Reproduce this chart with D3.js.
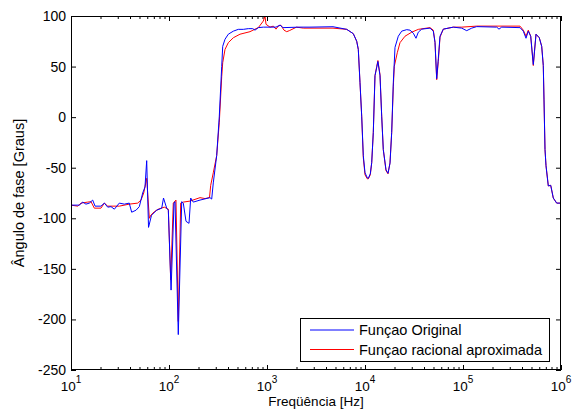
<!DOCTYPE html>
<html><head><meta charset="utf-8">
<script src="https://cdn.jsdelivr.net/npm/d3@7"></script>
<style>
body{margin:0;background:#fff}
text{font-family:Arial,"Liberation Sans",Helvetica,sans-serif;fill:#000}
</style>
</head><body>
<svg id="chart" width="575" height="409"></svg>
<script>
// ---- data ----
const blueFreq=[10,12.15,13.2,14.2,15.4,16.65,17.6,20.2,21.9,23.7,25.6,27.7,31.1,35.0,39.3,41.6,46.1,49.8,53.9,56.9,59.2,61.8,66.3,74.9,84.3,87.9,94.7,98.4,105,112.5,115.1,124.4,134.8,139.9,149.1,160.0,166.5,177.0,207.2,262,272.7,283.1,306.7,326.1,345.0,353.2,372.8,402.9,453.2,509.5,573.1,644.5,714.8,754.5,815.4,916.7,1073,1235,1358,1457,2171,2747,4716,6508,7598,8229,8543,8892,9254,9610,10000,10556,10807,11326,11706,12153,12647,13164,13540,14226,14803,15370,16380,17170,17993,18726,19445,20236,21864,23682,26640,28793,31115,33146,34990,37900,46060,49770,51800,53900,55980,58260,62950,79620,97000,109100,122700,138000,220800,232900,248200,381600,412500,439500,463800,490800,521600,555800,600500,635400,659700,670700,686700,703000,742000,785200,834500,903900,1000000];
const blueVal=[-87,-87,-84,-86,-85,-82,-88,-88,-85,-89,-88.5,-91,-85,-86,-85,-94,-92,-88.5,-75,-69,-43,-109,-97,-92,-90,-80,-90,-92,-171,-85,-83.6,-215,-83.6,-85,-103,-105,-80,-84,-82,-79.6,-81,-65,-38,1,50,70,77,82,85,86.8,86.8,87.5,87.5,86,88.5,89,89,89,91,88.5,89,89,89.4,86.8,82.5,75,67,34,1,-38,-55,-60,-60.5,-56,-45,-15,41,49,55,41,1,-32,-52,-55.5,-45.6,-15,34,69,80,85,86.5,86,83,78,84,87,88,85,74,38,58,80,87,89,88,85.5,88,89.5,89,87,89,88.5,85,78,85,80,52,82,78.5,70,51,17,-32,-48,-68,-67.4,-80,-85,-85];
const redFreq=[10,11.7,12.65,14.8,16.0,17.3,20.2,21.9,23.7,31.1,39.3,47.9,51.8,55.2,59.2,63.0,65.5,70.8,77.8,89.5,98.4,104.1,110.6,117.8,124.4,131.6,139.9,163.8,207.2,233,259,266.4,283.1,306.7,326.1,345.0,353.2,372.8,402.9,453.2,530.2,670.7,754.5,815.4,916.7,954,977,1073,1160,1235,1304,1380,1491,1589,1689,2000,2347,4716,6508,7598,8229,8543,8892,9254,9610,10000,10556,10807,11326,11706,12153,12647,13164,13540,14226,14803,15370,16380,17170,17993,18726,19445,19907,21357,22753,25601,29963,34990,46060,49770,51800,53900,55980,58260,62950,79620,97000,138000,381600,412500,439500,463800,490800,521600,555800,600500,635400,659700,670700,686700,703000,742000,785200,834500,903900,1000000];
const redVal=[-87,-88,-85,-84,-83.6,-90,-90,-85,-88,-88,-86,-85,-82,-75,-60.5,-100,-96.7,-93.5,-91,-89,-91,-161,-85,-82,-202,-85,-84,-83,-79.6,-80.5,-79.5,-67.4,-55,-38,-5,40,53.8,67,73.6,78.5,82,84.5,87,88.5,95,100,91.8,89,90,87,90,91,86,84.5,85.5,89,88,88,86.8,82.5,75,67,34,1,-40,-57,-61,-61,-57,-45,-15,41,50,56,42,1,-32,-53,-56,-45,-15,30,50.3,63.7,73.6,80,84,86.8,88.5,86,74,37,55,79,87,89,89,90,90,86,80,86,80,51,82,78.5,70,51,17,-32,-48,-68,-67.4,-80,-85,-85];
const xTickExponents=[1,2,3,4,5,6];
const yTicks=[-250,-200,-150,-100,-50,0,50,100];
const seriesNames=["Funçao Original","Funçao racional aproximada"];
const seriesColors=["#0000ff","#ff0000"];
const xLabel="Freqüência [Hz]";
const yLabel="Ângulo de fase [Graus]";

// ---- layout ----
const L=71,R=561,T=16,B=370;
const svg=d3.select("#chart");
const x=d3.scaleLog().domain([10,1e6]).range([L,R]);
const y=d3.scaleLinear().domain([-250,100]).range([B,T]);

svg.append("defs").append("clipPath").attr("id","clip")
  .append("rect").attr("x",L).attr("y",T).attr("width",R-L).attr("height",B-T);

const majors=xTickExponents.map(e=>Math.pow(10,e));
const minors=[];
for(let e=1;e<6;e++)for(let k=2;k<=9;k++)minors.push(k*Math.pow(10,e));

function noDomain(g){g.select(".domain").remove();g.selectAll("line").attr("stroke","#000");}
svg.append("g").attr("transform",`translate(0,${B})`).call(d3.axisBottom(x).tickValues(majors).tickSize(-5).tickFormat("")).call(noDomain);
svg.append("g").attr("transform",`translate(0,${B})`).call(d3.axisBottom(x).tickValues(minors).tickSize(-3).tickFormat("")).call(noDomain);
svg.append("g").attr("transform",`translate(0,${T})`).call(d3.axisTop(x).tickValues(majors).tickSize(-5).tickFormat("")).call(noDomain);
svg.append("g").attr("transform",`translate(0,${T})`).call(d3.axisTop(x).tickValues(minors).tickSize(-3).tickFormat("")).call(noDomain);
svg.append("g").attr("transform",`translate(${L},0)`).call(d3.axisLeft(y).tickValues(yTicks).tickSize(-5).tickFormat("")).call(noDomain);
svg.append("g").attr("transform",`translate(${R},0)`).call(d3.axisRight(y).tickValues(yTicks).tickSize(-5).tickFormat("")).call(noDomain);

// y tick labels
svg.append("g").selectAll("text").data(yTicks).join("text")
  .attr("x",L-5).attr("y",d=>y(d)+5).attr("text-anchor","end")
  .attr("font-size",14).text(d=>d);
// x tick labels 10^n
const xl=svg.append("g").selectAll("text").data(xTickExponents).join("text")
  .attr("x",e=>x(Math.pow(10,e))).attr("y",390.5).attr("text-anchor","middle").attr("font-size",13.5);
xl.append("tspan").text("10");
xl.append("tspan").attr("font-size",10).attr("dy",-8).text(e=>e);

// axis labels
svg.append("text").attr("x",(L+R)/2).attr("y",405.5).attr("text-anchor","middle").attr("font-size",13.5).text(xLabel);
svg.append("text").attr("transform",`translate(24,${(T+B)/2}) rotate(-90)`).attr("text-anchor","middle").attr("font-size",14.5).text(yLabel);

// lines (red under blue)
const line=d3.line().x(d=>x(d[0])).y(d=>y(d[1]));
const plot=svg.append("g").attr("clip-path","url(#clip)");
plot.append("path").datum(d3.zip(redFreq,redVal)).attr("d",line)
  .attr("fill","none").attr("stroke",seriesColors[1]).attr("stroke-width",1);
plot.append("path").datum(d3.zip(blueFreq,blueVal)).attr("d",line)
  .attr("fill","none").attr("stroke",seriesColors[0]).attr("stroke-width",1);

// frame
svg.append("rect").attr("x",L+0.5).attr("y",T+0.5).attr("width",R-L-1).attr("height",B-T-1)
  .attr("fill","none").attr("stroke","#000").attr("stroke-width",1);

// legend
const lg=svg.append("g");
lg.append("rect").attr("x",300.5).attr("y",318.5).attr("width",249).attr("height",43)
  .attr("fill","#fff").attr("stroke","#000");
seriesNames.forEach((n,i)=>{
  const yy=330+i*19.5;
  lg.append("line").attr("x1",310).attr("x2",354).attr("y1",yy).attr("y2",yy)
    .attr("stroke",seriesColors[i]).attr("stroke-width",1);
  lg.append("text").attr("x",359).attr("y",yy+5).attr("font-size",14.5).text(n);
});
</script>
</body></html>
